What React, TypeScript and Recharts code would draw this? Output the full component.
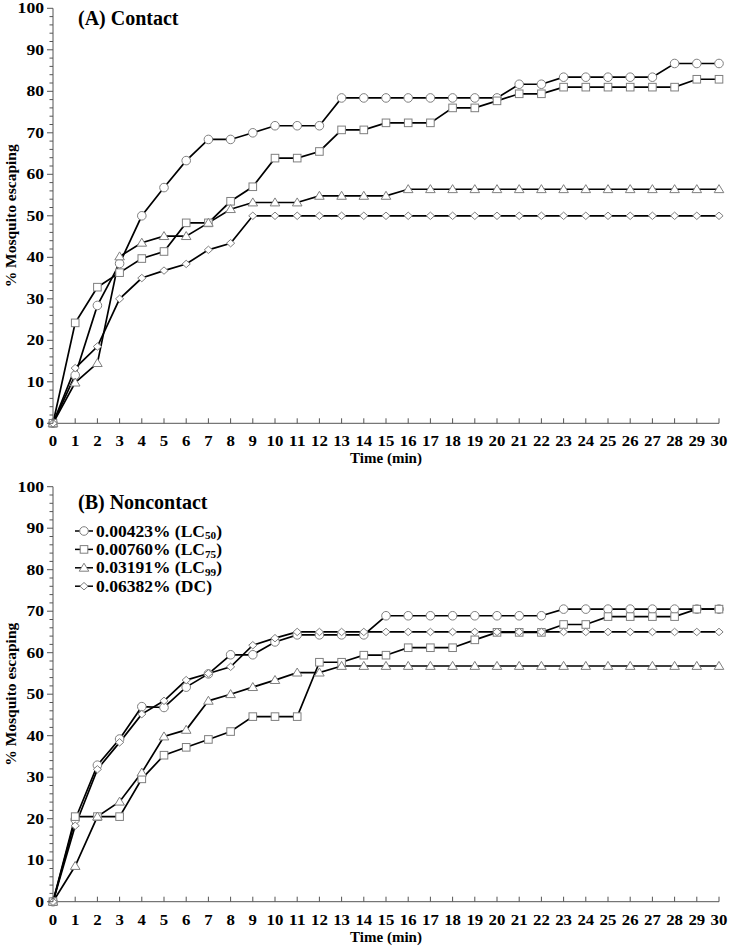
import React from 'react';
import { LineChart, Line, XAxis, YAxis, Legend } from 'recharts';

const minutes = [0, 1, 2, 3, 4, 5, 6, 7, 8, 9, 10, 11, 12, 13, 14, 15, 16, 17, 18, 19, 20, 21, 22, 23, 24, 25, 26, 27, 28, 29, 30];
const xTicks = minutes;
const yTicks = [0, 2, 4, 6, 8, 10, 12, 14, 16, 18, 20, 22, 24, 26, 28, 30, 32, 34, 36, 38, 40, 42, 44, 46, 48, 50, 52, 54, 56, 58, 60, 62, 64, 66, 68, 70, 72, 74, 76, 78, 80, 82, 84, 86, 88, 90, 92, 94, 96, 98, 100];

// Panel A (Contact)
const contactLC50 = [0, 11.6, 28.4, 38.5, 50.0, 56.8, 63.3, 68.4, 68.4, 70.0, 71.7, 71.7, 71.7, 78.4, 78.4, 78.4, 78.4, 78.4, 78.4, 78.4, 78.4, 81.7, 81.7, 83.4, 83.4, 83.4, 83.4, 83.4, 86.7, 86.7, 86.7];
const contactLC75 = [0, 24.2, 32.8, 36.3, 39.7, 41.4, 48.3, 48.3, 53.5, 57.0, 63.9, 63.9, 65.5, 70.7, 70.7, 72.4, 72.4, 72.4, 76.0, 76.0, 77.7, 79.4, 79.4, 81.0, 81.0, 81.0, 81.0, 81.0, 81.0, 82.9, 82.9];
const contactLC99 = [0, 9.8, 14.5, 40.2, 43.5, 45.1, 45.1, 48.3, 51.6, 53.2, 53.2, 53.2, 54.8, 54.8, 54.8, 54.8, 56.4, 56.4, 56.4, 56.4, 56.4, 56.4, 56.4, 56.4, 56.4, 56.4, 56.4, 56.4, 56.4, 56.4, 56.4];
const contactDC = [0, 13.3, 18.5, 30.0, 35.0, 36.8, 38.4, 41.8, 43.4, 50, 50, 50, 50, 50, 50, 50, 50, 50, 50, 50, 50, 50, 50, 50, 50, 50, 50, 50, 50, 50, 50];

// Panel B (Noncontact)
const noncontactLC50 = [0, 19.8, 32.9, 39.2, 47.0, 46.8, 51.7, 54.9, 59.5, 59.5, 62.6, 64.3, 64.3, 64.3, 64.3, 68.9, 68.9, 68.9, 68.9, 68.9, 68.9, 68.9, 68.9, 70.5, 70.5, 70.5, 70.5, 70.5, 70.5, 70.5, 70.5];
const noncontactLC75 = [0, 20.5, 20.5, 20.5, 29.6, 35.3, 37.2, 39.1, 41.0, 44.6, 44.6, 44.6, 57.7, 57.7, 59.4, 59.4, 61.2, 61.2, 61.2, 63.1, 64.9, 64.9, 64.9, 66.8, 66.8, 68.7, 68.7, 68.7, 68.7, 70.5, 70.5];
const noncontactLC99 = [0, 8.6, 20.5, 24.1, 31.1, 39.8, 41.4, 48.4, 50.0, 51.7, 53.4, 55.2, 55.2, 56.8, 56.8, 56.8, 56.8, 56.8, 56.8, 56.8, 56.8, 56.8, 56.8, 56.8, 56.8, 56.8, 56.8, 56.8, 56.8, 56.8, 56.8];
const noncontactDC = [0, 18.3, 31.9, 38.4, 45.2, 48.4, 53.4, 55.0, 56.6, 61.8, 63.5, 65.0, 65.0, 65.0, 65.0, 65.0, 65.0, 65.0, 65.0, 65.0, 65.0, 65.0, 65.0, 65.0, 65.0, 65.0, 65.0, 65.0, 65.0, 65.0, 65.0];

const seriesKeys = ['lc50', 'lc75', 'lc99', 'dc'];
const seriesShapes = ['circle', 'square', 'triangle', 'diamond'];
const seriesConc = ['0.00423%', '0.00760%', '0.03191%', '0.06382%'];
const seriesTag = ['LC', 'LC', 'LC', 'DC'];
const seriesSub = ['50', '75', '99', ''];

const FONT = "'Liberation Serif', 'Times New Roman', serif";
const AXIS = '#555555';
const MARK = '#7f7f7f';

function buildRows(a: number[], b: number[], c: number[], d: number[]) {
  return minutes.map((m, i) => ({ m, lc50: a[i], lc75: b[i], lc99: c[i], dc: d[i] }));
}
const contactData = buildRows(contactLC50, contactLC75, contactLC99, contactDC);
const noncontactData = buildRows(noncontactLC50, noncontactLC75, noncontactLC99, noncontactDC);

function Marker({ cx, cy, shape }: { cx?: number; cy?: number; shape: string }) {
  if (cx == null || cy == null || isNaN(cx) || isNaN(cy)) return null;
  const p = { fill: '#ffffff', stroke: MARK, strokeWidth: 1 };
  if (shape === 'circle') return <circle cx={cx} cy={cy} r={4.3} {...p} />;
  if (shape === 'square') return <rect x={cx - 3.8} y={cy - 3.8} width={7.6} height={7.6} {...p} />;
  if (shape === 'triangle')
    return <polygon points={`${cx},${cy - 4.6} ${cx + 4.8},${cy + 3.4} ${cx - 4.8},${cy + 3.4}`} {...p} />;
  return <polygon points={`${cx},${cy - 3.7} ${cx + 4.1},${cy} ${cx},${cy + 3.7} ${cx - 4.1},${cy}`} {...p} />;
}

const DIGIT_W = 8.8;

function YTick(props: any) {
  const { x, y, payload } = props;
  const v = payload.value;
  const major = v % 10 === 0;
  const s = String(v);
  return (
    <g>
      <line x1={x - (major ? 6 : 3.5)} x2={x} y1={y} y2={y} stroke={AXIS} strokeWidth={1} />
      {major && (
        <text
          x={x - 9}
          y={y + 5}
          textAnchor="end"
          fontFamily={FONT}
          fontWeight="bold"
          fontSize={14.5}
          fill="#000"
          textLength={s.length * DIGIT_W}
          lengthAdjust="spacingAndGlyphs"
        >
          {s}
        </text>
      )}
    </g>
  );
}

function XTick(props: any) {
  const { x, y, payload } = props;
  const s = String(payload.value);
  return (
    <g>
      <line x1={x} x2={x} y1={y} y2={y - 5} stroke={AXIS} strokeWidth={1} />
      <text
        x={x}
        y={y + 23}
        textAnchor="middle"
        fontFamily={FONT}
        fontWeight="bold"
        fontSize={14.5}
        fill="#000"
        textLength={s.length * 8.4}
        lengthAdjust="spacingAndGlyphs"
      >
        {s}
      </text>
    </g>
  );
}

function XTitle(props: any) {
  const vb = props.viewBox || {};
  return (
    <text x={vb.x + vb.width / 2} y={vb.y + 40} textAnchor="middle" fontFamily={FONT} fontWeight="bold" fontSize={15} fill="#000">
      Time (min)
    </text>
  );
}

function YTitle(props: any) {
  const vb = props.viewBox || {};
  const cx = 11;
  const cy = vb.y + vb.height / 2;
  return (
    <text x={cx} y={cy} transform={`rotate(-90 ${cx} ${cy})`} textAnchor="middle" dominantBaseline="central" fontFamily={FONT} fontWeight="bold" fontSize={15.5} fill="#000">
      % Mosquito escaping
    </text>
  );
}

function LegendBox() {
  return (
    <svg width={240} height={80} style={{ display: 'block', overflow: 'visible' }}>
      {seriesKeys.map((k, i) => {
        const cy = 9 + i * 18.4;
        const sub = seriesSub[i];
        return (
          <g key={k}>
            <line x1={1} y1={cy} x2={19} y2={cy} stroke="#000" strokeWidth={1.5} />
            <Marker cx={10} cy={cy} shape={seriesShapes[i]} />
            <text
              x={22}
              y={cy + 5.6}
              fontFamily={FONT}
              fontWeight="bold"
              fontSize={16.5}
              fill="#000"
              textLength={sub ? 126 : 116}
              lengthAdjust="spacingAndGlyphs"
            >
              {`${seriesConc[i]} (${seriesTag[i]}`}
              {sub ? (
                <>
                  <tspan fontSize={10.5} dy={2.8}>{sub}</tspan>
                  <tspan dy={-2.8}>)</tspan>
                </>
              ) : (
                ')'
              )}
            </text>
          </g>
        );
      })}
    </svg>
  );
}

function Panel({ data, height, top, withLegend }: { data: any[]; height: number; top: number; withLegend: boolean }) {
  const plotH = 415;
  return (
    <LineChart width={729} height={height} data={data} margin={{ top, right: 10, bottom: 0, left: 0 }}>
      <XAxis
        dataKey="m"
        type="number"
        domain={[0, 30]}
        ticks={xTicks}
        interval={0}
        height={height - top - plotH}
        tickSize={0}
        tickMargin={0}
        tickLine={false}
        axisLine={{ stroke: AXIS, strokeWidth: 1 }}
        tick={<XTick />}
        label={<XTitle />}
      />
      <YAxis
        type="number"
        domain={[0, 100]}
        ticks={yTicks}
        interval={0}
        width={53}
        tickSize={0}
        tickMargin={0}
        tickLine={false}
        axisLine={{ stroke: AXIS, strokeWidth: 1 }}
        tick={<YTick />}
        label={<YTitle />}
      />
      {withLegend && (
        <Legend
          layout="vertical"
          align="center"
          verticalAlign="middle"
          content={<LegendBox />}
          wrapperStyle={{ left: 74, top: 48, width: 240, height: 80 }}
        />
      )}
      {seriesKeys.map((k, i) => (
        <Line
          key={k}
          dataKey={k}
          name={seriesConc[i]}
          stroke="#000"
          strokeWidth={1.7}
          isAnimationActive={false}
          dot={(p: any) => <Marker key={`${k}-${p.index}`} cx={p.cx} cy={p.cy} shape={seriesShapes[i]} />}
          activeDot={false}
        />
      ))}
    </LineChart>
  );
}

const titleStyle: React.CSSProperties = {
  position: 'absolute',
  left: 78,
  fontFamily: FONT,
  fontWeight: 'bold',
  fontSize: 20,
  lineHeight: '24px',
  color: '#000',
  whiteSpace: 'nowrap',
};

export default function App() {
  return (
    <div style={{ position: 'absolute', left: 0, top: 0, width: 729, height: 949, background: '#fff', overflow: 'hidden' }}>
      <div style={{ position: 'absolute', left: 0, top: 0 }}>
        <Panel data={contactData} height={474} top={8.3} withLegend={false} />
      </div>
      <div style={{ position: 'absolute', left: 0, top: 474 }}>
        <Panel data={noncontactData} height={475} top={12.7} withLegend={true} />
      </div>
      <div style={{ ...titleStyle, top: 6 }}>(A) Contact</div>
      <div style={{ ...titleStyle, top: 490 }}>(B) Noncontact</div>
    </div>
  );
}
